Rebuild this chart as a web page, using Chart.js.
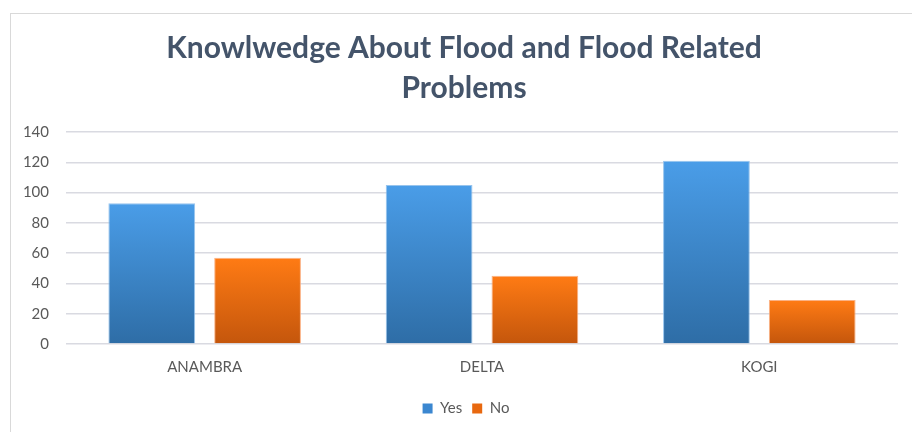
<!DOCTYPE html>
<html>
<head>
<meta charset="utf-8">
<script src="https://cdn.jsdelivr.net/npm/chart.js@4"></script>
<style>
  html, body { margin: 0; padding: 0; background: #ffffff; }
  #wrap { width: 912px; height: 432px; position: relative; }
</style>
</head>
<body>
<div id="wrap"><canvas id="chart" width="912" height="432"></canvas></div>
<script>
const categories = ['ANAMBRA', 'DELTA', 'KOGI'];
const yesValues = [93, 105, 121];
const noValues = [57, 45, 29];
const titleLines = ['Knowlwedge About Flood and Flood Related', 'Problems'];

const FONT = "Lato, 'Open Sans', sans-serif";

// Vertical gradient spanning each individual bar, from its top down to the baseline
function barGradient(topColor, bottomColor) {
  return function (ctx) {
    const chart = ctx.chart;
    if (!chart.chartArea || ctx.type !== 'data') return topColor;
    const y = chart.scales.y;
    const top = y.getPixelForValue(ctx.raw);
    const base = y.getPixelForValue(0);
    if (!isFinite(top) || !isFinite(base) || top === base) return topColor;
    const g = chart.ctx.createLinearGradient(0, top, 0, base);
    g.addColorStop(0, topColor);
    g.addColorStop(1, bottomColor);
    return g;
  };
}

// Thin light frame around the whole chart object
const framePlugin = {
  id: 'frame',
  beforeDraw(chart) {
    const c = chart.ctx;
    c.save();
    c.fillStyle = '#ffffff';
    c.fillRect(0, 0, chart.width, chart.height);
    c.strokeStyle = '#d9d9d9';
    c.lineWidth = 1;
    c.strokeRect(10.5, 13.5, 1000, 1000);
    c.restore();
  }
};

// Center the title and legend on the frame rather than on the padded canvas
const centerPlugin = {
  id: 'centerBlocks',
  afterLayout(chart) {
    const t = chart.titleBlock;
    if (t) { t.left += 10; t.right += 10; }
    const l = chart.legend;
    if (l) {
      l.left += 12; l.right += 12;
      (l.legendHitBoxes || []).forEach(b => { b.left += 12; });
    }
  }
};

new Chart(document.getElementById('chart'), {
  type: 'bar',
  data: {
    labels: categories,
    datasets: [
      {
        label: 'Yes',
        data: yesValues,
        backgroundColor: barGradient('#4a9de8', '#2e6da6'),
        borderColor: 'rgba(140,190,235,0.9)',
        borderWidth: 1,
        categoryPercentage: 0.763,
        barPercentage: 0.82
      },
      {
        label: 'No',
        data: noValues,
        backgroundColor: barGradient('#ff7b14', '#c4560c'),
        borderColor: 'rgba(250,170,120,0.9)',
        borderWidth: 1,
        categoryPercentage: 0.763,
        barPercentage: 0.82
      }
    ]
  },
  options: {
    responsive: false,
    animation: false,
    layout: { padding: { top: 13, left: 10, right: 14, bottom: 6 } },
    plugins: {
      title: {
        display: true,
        text: titleLines,
        color: '#44546a',
        font: { family: FONT, size: 30, weight: 'bold', lineHeight: 1.333 },
        padding: { top: 15, bottom: 24 }
      },
      legend: {
        position: 'bottom',
        labels: {
          color: '#595959',
          font: { family: FONT, size: 15 },
          boxWidth: 10,
          boxHeight: 10,
          padding: 10,
          generateLabels(chart) {
            const cols = ['#3b87d0', '#e8680f'];
            return chart.data.datasets.map((ds, i) => ({
              text: ds.label,
              fillStyle: cols[i],
              strokeStyle: cols[i],
              lineWidth: 0,
              fontColor: '#595959',
              datasetIndex: i,
              hidden: false
            }));
          }
        }
      },
      tooltip: { enabled: false }
    },
    scales: {
      x: {
        afterFit(s) { s.height = 47; },
        grid: { display: false, drawTicks: false },
        border: { display: false },
        ticks: { color: '#595959', font: { family: FONT, size: 15 }, padding: 14 }
      },
      y: {
        min: 0,
        max: 140,
        afterFit(s) { s.width = 56; },
        grid: { color: '#d9dae1', lineWidth: 1.5, drawTicks: false },
        border: { display: false },
        ticks: { stepSize: 20, color: '#595959', font: { family: FONT, size: 15 }, padding: 17 }
      }
    }
  },
  plugins: [framePlugin, centerPlugin]
});
</script>
</body>
</html>
